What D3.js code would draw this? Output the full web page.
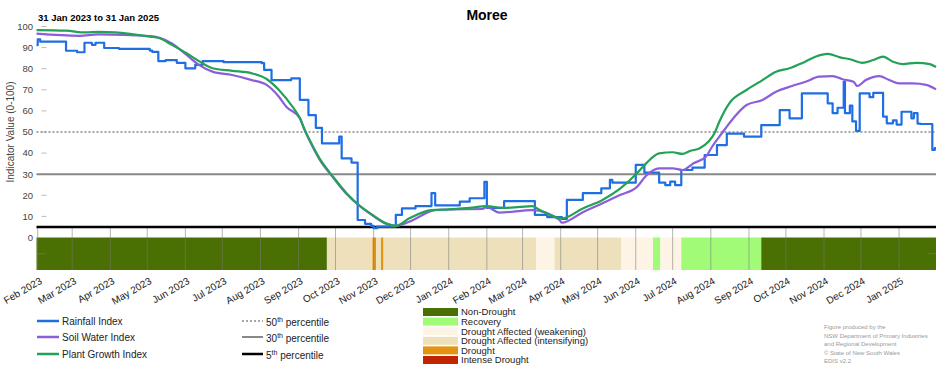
<!DOCTYPE html>
<html>
<head>
<meta charset="utf-8">
<script src="https://cdn.jsdelivr.net/npm/d3@7"></script>
<style>
  body { margin: 0; background: #fff; }
  svg { font-family: "Liberation Sans", Arial, sans-serif; }
</style>
</head>
<body>
<svg width="952" height="370"></svg>
<script>
// values
var rainfallDates = ["2023-01-31","2023-02-01","2023-02-03","2023-02-24","2023-03-05","2023-03-11","2023-03-17","2023-03-20",
  "2023-03-27","2023-04-08","2023-05-03","2023-05-05","2023-05-10","2023-05-16","2023-05-25","2023-06-01","2023-06-09",
  "2023-06-15","2023-07-02","2023-08-02","2023-08-04","2023-08-10","2023-08-26","2023-09-02","2023-09-09","2023-09-15",
  "2023-09-20","2023-10-04","2023-10-06","2023-10-14","2023-10-19","2023-10-25","2023-10-30","2023-11-01","2023-11-04",
  "2023-11-19","2023-11-24","2023-12-05","2023-12-18","2023-12-21","2024-01-10","2024-01-18","2024-01-30","2024-02-01",
  "2024-02-15","2024-03-11","2024-03-21","2024-04-02","2024-04-06","2024-04-19","2024-05-04","2024-05-11","2024-05-13",
  "2024-06-01","2024-06-08","2024-06-20","2024-06-25","2024-06-29","2024-07-03","2024-07-08","2024-07-17","2024-07-27",
  "2024-08-06","2024-08-14","2024-08-28","2024-09-11","2024-09-26","2024-10-04","2024-10-14","2024-11-04","2024-11-08",
  "2024-11-12","2024-11-17","2024-11-18","2024-11-22","2024-11-24","2024-11-27","2024-11-30","2024-12-08","2024-12-11",
  "2024-12-19","2024-12-22","2024-12-27","2024-12-30","2025-01-03","2025-01-11","2025-01-13","2025-01-16","2025-01-18",
  "2025-01-28","2025-01-30","2025-01-31"];
var rainfallValues = [91.2,93.9,92.8,88.5,87.8,92.3,91.3,92.3,
  89.8,89.4,88.6,88.0,83.6,84.1,82.8,80.2,81.8,
  83.6,83.1,82.6,79.4,74.6,75.4,65.2,58.0,52.0,
  44.6,47.8,37.5,35.5,8.3,6.5,5.5,4.4,5.2,
  10.7,13.8,14.9,21.0,15.2,17.0,18.6,26.4,14.0,
  17.2,10.7,9.7,8.8,17.8,21.0,23.3,27.3,26.0,
  34.4,30.7,26.0,24.8,26.5,24.8,32.0,33.1,39.1,
  43.8,49.2,47.8,53.3,60.4,56.5,68.3,63.6,58.9,
  61.5,73.8,58.9,62.5,55.0,50.5,68.3,66.5,68.5,
  57.3,54.1,55.5,53.5,59.6,56.5,58.9,54.0,53.8,
  41.5,42.4,42.4];

var soilDates = ["2023-01-31","2023-03-07","2023-03-22","2023-05-03","2023-05-11","2023-05-21","2023-06-02","2023-06-12",
  "2023-06-23","2023-07-09","2023-07-25","2023-08-06","2023-08-16","2023-08-22","2023-09-02","2023-09-06","2023-09-10",
  "2023-09-18","2023-09-29","2023-10-10","2023-10-20","2023-10-31","2023-11-11","2023-11-19","2023-11-30","2023-12-21",
  "2024-01-02","2024-01-28","2024-02-01","2024-02-11","2024-03-09","2024-03-31","2024-04-02","2024-04-19","2024-05-05",
  "2024-05-19","2024-06-02","2024-06-10","2024-06-20","2024-07-01","2024-07-09","2024-07-18","2024-07-28","2024-08-02",
  "2024-08-10","2024-08-16","2024-08-30","2024-09-12","2024-09-23","2024-10-06","2024-10-17","2024-10-28","2024-11-08",
  "2024-11-16","2024-11-25","2024-11-28","2024-12-05","2024-12-16","2024-12-24","2025-01-01","2025-01-12","2025-01-23",
  "2025-01-31"];
var soilValues = [96.6,95.6,96.3,95.5,94.7,92.0,86.5,81.8,
  78.6,77.0,74.6,72.3,66.7,62.0,56.6,50.8,45.8,
  37.0,28.5,20.6,15.2,10.5,6.5,5.5,7.5,13.0,
  13.3,13.5,14.5,11.8,13.0,8.3,7.0,12.0,16.2,
  20.1,24.0,29.6,32.8,32.8,32.0,35.2,38.3,43.0,
  49.4,54.1,62.8,65.2,69.1,71.8,73.8,76.2,76.5,
  75.0,73.8,71.8,74.6,76.5,74.6,73.0,73.0,72.3,
  70.2];

var plantDates = ["2023-01-31","2023-02-24","2023-03-12","2023-03-22","2023-04-05","2023-04-18","2023-05-03","2023-05-11",
  "2023-05-21","2023-06-02","2023-06-12","2023-06-23","2023-07-09","2023-07-25","2023-08-06","2023-08-16","2023-08-27",
  "2023-09-02","2023-09-06","2023-09-10","2023-09-18","2023-09-29","2023-10-10","2023-10-20","2023-10-31","2023-11-11",
  "2023-11-19","2023-11-30","2023-12-18","2024-01-02","2024-01-18","2024-02-01","2024-02-14","2024-02-28","2024-03-09",
  "2024-03-15","2024-04-02","2024-04-19","2024-05-05","2024-05-19","2024-06-02","2024-06-10","2024-06-20","2024-07-01",
  "2024-07-09","2024-07-15","2024-07-23","2024-07-30","2024-08-04","2024-08-08","2024-08-16","2024-08-30","2024-09-12",
  "2024-09-23","2024-10-04","2024-10-14","2024-10-25","2024-11-04","2024-11-14","2024-11-22","2024-12-02","2024-12-11",
  "2024-12-19","2024-12-27","2025-01-04","2025-01-15","2025-01-26","2025-01-31"];
var plantValues = [98.3,98.0,97.2,97.5,97.2,96.4,95.2,94.4,
  91.3,87.3,83.6,80.2,79.0,77.8,75.1,69.9,62.0,
  56.6,51.0,46.2,37.5,28.8,21.0,15.4,10.7,6.7,
  5.5,9.1,13.0,13.3,14.0,14.9,14.0,14.5,14.9,
  13.0,9.1,13.8,17.8,23.0,30.4,35.5,39.9,40.4,
  39.6,41.0,42.3,45.4,49.4,55.0,63.6,69.9,74.6,
  78.6,80.2,82.6,85.7,87.0,85.4,84.5,82.8,84.1,
  85.7,83.3,82.2,82.8,82.2,80.8];

// drought status periods (start date, status index)
var statusStarts = ["2023-01-31","2023-09-24","2023-10-31","2023-11-03","2023-11-07","2023-11-09","2024-03-12",
  "2024-03-27","2024-05-20","2024-06-15","2024-06-21","2024-07-08","2024-09-11"];
var statusCodes = [0, 3, 4, 3, 4, 3, 2, 3, 2, 1, 2, 1, 0];
var statusNames = ["Non-Drought", "Recovery", "Drought Affected (weakening)", "Drought Affected (intensifying)",
  "Drought", "Intense Drought"];
var statusColors = ["#4a7004", "#a2fb77", "#fdf4e6", "#ede0bb", "#e3930f", "#c12400"];

var seriesNames = ["Rainfall Index", "Soil Water Index", "Plant Growth Index"];
var seriesColors = ["#1f6fe3", "#8b5fda", "#22a157"];

var percentileValues = [50, 30, 5];
var yTicks = [0, 10, 20, 30, 40, 50, 60, 70, 80, 90, 100];
var startDate = "2023-01-31", endDate = "2025-01-31";

var parse = d3.timeParse("%Y-%m-%d");

var svg = d3.select("svg"),
    left = 36.5, right = 936,
    bandTop = 237.5, bandBottom = 270;

var x = d3.scaleTime()
    .domain([parse(startDate), parse(endDate)])
    .range([left, right]);

var y = d3.scaleLinear()
    .domain([0, 100])
    .range([bandTop, 26.5]);

// status band
var periods = statusStarts.map(function(s, i) {
  return {
    start: parse(s),
    end: i < statusStarts.length - 1 ? parse(statusStarts[i + 1]) : parse(endDate),
    code: statusCodes[i]
  };
});

svg.append("g").selectAll("rect")
  .data(periods)
  .enter().append("rect")
    .attr("x", function(d) { return x(d.start); })
    .attr("y", bandTop)
    .attr("width", function(d) { return x(d.end) - x(d.start); })
    .attr("height", bandBottom - bandTop)
    .attr("fill", function(d) { return statusColors[d.code]; });

// month ticks
var months = d3.timeMonth.range(parse("2023-02-01"), parse(endDate));

svg.append("g").selectAll("line")
  .data(months)
  .enter().append("line")
    .attr("x1", function(d) { return x(d); })
    .attr("x2", function(d) { return x(d); })
    .attr("y1", y(5))
    .attr("y2", bandBottom)
    .attr("stroke", "rgba(120,120,120,0.55)")
    .attr("stroke-width", 1);

svg.append("g")
    .attr("font-size", 10)
    .attr("fill", "#222")
  .selectAll("text")
  .data(months)
  .enter().append("text")
    .attr("transform", function(d) { return "translate(" + (x(d) + 5) + ",283) rotate(-30)"; })
    .attr("text-anchor", "end")
    .text(d3.timeFormat("%b %Y"));

// small ticks at the middle of the band
[left, right].forEach(function(px) {
  svg.append("line")
    .attr("x1", px === left ? px + 1 : px - 8).attr("x2", px === left ? px + 9 : px)
    .attr("y1", (bandTop + bandBottom) / 2).attr("y2", (bandTop + bandBottom) / 2)
    .attr("stroke", "rgba(120,120,120,0.6)");
});

// y axis
var yAxis = svg.append("g").attr("font-size", 9.5).attr("fill", "#444");
yAxis.selectAll("line")
  .data(yTicks.slice(1))
  .enter().append("line")
    .attr("x1", left + 5).attr("x2", left + 10)
    .attr("y1", function(d) { return y(d); })
    .attr("y2", function(d) { return y(d); })
    .attr("stroke", "#bbb");
yAxis.selectAll("text")
  .data(yTicks)
  .enter().append("text")
    .attr("x", 33)
    .attr("y", function(d) { return y(d); })
    .attr("dy", "0.35em")
    .attr("text-anchor", "end")
    .text(function(d) { return d; });

svg.append("text")
    .attr("transform", "translate(14," + y(50) + ") rotate(-90)")
    .attr("text-anchor", "middle")
    .attr("font-size", 10)
    .attr("fill", "#444")
    .text("Indicator Value (0-100)");

// percentile lines
var percStyles = [
  {stroke: "#888", width: 1.5, dash: "2,2"},
  {stroke: "#888", width: 2, dash: null},
  {stroke: "#000", width: 2.5, dash: null}
];

svg.append("g").selectAll("line")
  .data(percentileValues)
  .enter().append("line")
    .attr("x1", left).attr("x2", right)
    .attr("y1", function(d) { return y(d); })
    .attr("y2", function(d) { return y(d); })
    .attr("stroke", function(d, i) { return percStyles[i].stroke; })
    .attr("stroke-width", function(d, i) { return percStyles[i].width; })
    .attr("stroke-dasharray", function(d, i) { return percStyles[i].dash; });

// index lines
var series = [
  {dates: rainfallDates, values: rainfallValues, curve: d3.curveStepAfter},
  {dates: soilDates, values: soilValues, curve: d3.curveMonotoneX},
  {dates: plantDates, values: plantValues, curve: d3.curveMonotoneX}
];

series.forEach(function(s, i) {
  var pts = s.dates.map(function(dt, j) { return {date: parse(dt), value: s.values[j]}; });
  var line = d3.line()
      .curve(s.curve)
      .x(function(d) { return x(d.date); })
      .y(function(d) { return y(d.value); });
  svg.append("path")
      .datum(pts)
      .attr("fill", "none")
      .attr("stroke", seriesColors[i])
      .attr("stroke-width", 2.2)
      .attr("stroke-linejoin", "round")
      .attr("d", line);
});

// titles
svg.append("text")
    .attr("x", 487).attr("y", 20)
    .attr("text-anchor", "middle")
    .attr("font-size", 14).attr("font-weight", "bold")
    .text("Moree");

svg.append("text")
    .attr("x", 38).attr("y", 21)
    .attr("font-size", 9.5).attr("font-weight", "bold")
    .text("31 Jan 2023 to 31 Jan 2025");

// legend: indices
var legY = [321, 337, 354];
var leg1 = svg.append("g").attr("font-size", 10).attr("fill", "#222");
seriesNames.forEach(function(n, i) {
  leg1.append("line")
    .attr("x1", 37).attr("x2", 59)
    .attr("y1", legY[i]).attr("y2", legY[i])
    .attr("stroke", seriesColors[i]).attr("stroke-width", 2.5);
  leg1.append("text")
    .attr("x", 62).attr("y", legY[i]).attr("dy", "0.35em")
    .text(n);
});

// legend: percentiles
percentileValues.forEach(function(p, i) {
  leg1.append("line")
    .attr("x1", 242).attr("x2", 263)
    .attr("y1", legY[i]).attr("y2", legY[i])
    .attr("stroke", percStyles[i].stroke)
    .attr("stroke-width", percStyles[i].width)
    .attr("stroke-dasharray", percStyles[i].dash);
  var t = leg1.append("text")
    .attr("x", 266).attr("y", legY[i] + 1).attr("dy", "0.35em");
  t.append("tspan").text(p);
  t.append("tspan").attr("font-size", 7).attr("dy", "-0.55em").text("th");
  t.append("tspan").attr("dy", "0.4em").text(" percentile");
});

// legend: drought status
var leg2 = svg.append("g").attr("font-size", 9.5).attr("fill", "#222");
statusNames.forEach(function(n, i) {
  var yy = 308 + i * 9.6;
  leg2.append("rect")
    .attr("x", 423).attr("y", yy)
    .attr("width", 35).attr("height", 8)
    .attr("fill", statusColors[i]);
  leg2.append("text")
    .attr("x", 461).attr("y", yy + 4).attr("dy", "0.35em")
    .text(n);
});

// credits
var credits = ["Figure produced by the", "NSW Department of Primary Industries", "and Regional Development",
  "\u00a9 State of New South Wales", "EDIS v2.2"];
svg.append("g").attr("font-size", 6).attr("fill", "#999")
  .selectAll("text")
  .data(credits)
  .enter().append("text")
    .attr("x", 824)
    .attr("y", function(d, i) { return 329 + i * 8.5; })
    .text(function(d) { return d; });
</script>
</body>
</html>
